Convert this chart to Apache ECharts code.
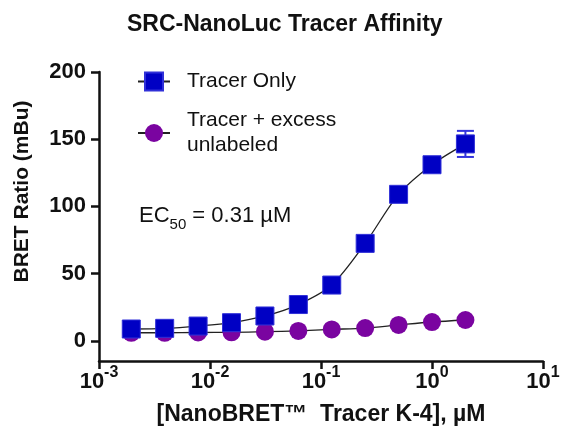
<!DOCTYPE html>
<html>
<head>
<meta charset="utf-8">
<script src="https://cdn.jsdelivr.net/npm/echarts@6/dist/echarts.min.js"></script>
<style>
html,body{margin:0;padding:0;background:#fff;}
#chart{width:561px;height:427px;}
</style>
</head>
<body>
<div id="chart"></div>
<script>
// Concentrations (µM), 2-fold serial dilution read from the x positions
var concentrations = [0.001953, 0.003906, 0.0078125, 0.015625, 0.03125, 0.0625, 0.125, 0.25, 0.5, 1, 2];
// BRET ratio (mBu)
var tracerOnly = [8.8, 9.3, 11, 13.5, 18.5, 27, 41.5, 72.5, 109, 131, 146.5];
var tracerOnlyErr = [1, 1, 1, 1, 1.5, 2, 2, 3, 3, 3, 9.7];
var tracerExcess = [6, 6, 6.2, 6.3, 6.8, 7.4, 8.5, 9.5, 11.8, 14, 15.5];
var seriesNames = ['Tracer Only', 'Tracer + excess\nunlabeled'];
var yTicks = [0, 50, 100, 150, 200];

var FONT = '"Liberation Sans", Arial, Helvetica, sans-serif';
var BLUE = '#0000C4';
var PURPLE = '#7A04A0';

function pairs(xs, ys) { return xs.map(function (x, i) { return [x, ys[i]]; }); }
var errData = concentrations.map(function (x, i) {
  return [x, tracerOnly[i] - tracerOnlyErr[i], tracerOnly[i] + tracerOnlyErr[i]];
});

var chart = echarts.init(document.getElementById('chart'), null, { renderer: 'canvas' });
chart.setOption({
  animation: false,
  backgroundColor: '#fff',
  title: {
    text: 'SRC-NanoLuc Tracer Affinity',
    left: 122, top: 8,
    textStyle: { fontFamily: FONT, fontSize: 23, fontWeight: 'bold', color: '#111' }
  },
  grid: { left: 99, right: 18, top: 72, bottom: 66, outerBoundsMode: 'none', containLabel: false },
  legend: {
    orient: 'vertical', left: 137, top: 69, padding: 0,
    itemWidth: 32, itemHeight: 22.5, itemGap: 14,
    data: seriesNames,
    textStyle: { fontFamily: FONT, fontSize: 21, color: '#111', lineHeight: 25, padding: [0, 0, 0, 12] }
  },
  xAxis: {
    type: 'log', logBase: 10, min: 0.001, max: 10,
    name: '[NanoBRET\u2122  Tracer K-4], \u00b5M',
    nameLocation: 'middle', nameGap: 42, nameMoveOverlap: false,
    nameTextStyle: { fontFamily: FONT, fontSize: 23, fontWeight: 'bold', color: '#111' },
    axisLine: { onZero: false, lineStyle: { color: '#111', width: 2.5 } },
    axisTick: { length: 8, lineStyle: { width: 2.5, color: '#111' } },
    minorTick: { show: false },
    splitLine: { show: false },
    axisLabel: {
      margin: 4,
      formatter: function (v) {
        var e = Math.round(Math.log10(v));
        return '{b|10}{s|' + e + '}';
      },
      rich: {
        b: { fontFamily: FONT, fontSize: 22, fontWeight: 'bold', color: '#111', lineHeight: 28, verticalAlign: 'bottom' },
        s: { fontFamily: FONT, fontSize: 16, fontWeight: 'bold', color: '#111', lineHeight: 28, verticalAlign: 'top' }
      }
    }
  },
  yAxis: {
    type: 'value', min: -15, max: 200,
    name: 'BRET Ratio (mBu)', nameLocation: 'middle', nameGap: 66, nameRotate: 90,
    nameTextStyle: { fontFamily: FONT, fontSize: 21, fontWeight: 'bold', color: '#111', padding: [0, 0, 0, 50] },
    axisLine: { show: true, onZero: false, lineStyle: { color: '#111', width: 2.5 } },
    axisTick: { show: true, length: 8, lineStyle: { width: 2.5, color: '#111' }, customValues: yTicks },
    splitLine: { show: false },
    axisLabel: { margin: 13, customValues: yTicks, fontFamily: FONT, fontSize: 22, fontWeight: 'bold', color: '#111' }
  },
  graphic: [{
    type: 'text', left: 139, top: 205,
    style: {
      text: '{n|EC}{sub|50}{n| = 0.31 \u00b5M}',
      rich: {
        n: { fontFamily: FONT, fontSize: 22, fill: '#111', lineHeight: 27, verticalAlign: 'top' },
        sub: { fontFamily: FONT, fontSize: 15, fill: '#111', lineHeight: 27, verticalAlign: 'bottom', padding: [9, 0, 0, 0] }
      }
    }
  }],
  series: [
    {
      name: seriesNames[1], type: 'line', data: pairs(concentrations, tracerExcess),
      symbol: 'circle', symbolSize: 18, smooth: 0.3, z: 2,
      itemStyle: { color: PURPLE },
      lineStyle: { color: '#222', width: 1.3 }
    },
    {
      name: seriesNames[0], type: 'line', data: pairs(concentrations, tracerOnly),
      symbol: 'rect', symbolSize: 18, smooth: 0.3, z: 4,
      itemStyle: { color: BLUE, borderColor: '#3030D8', borderWidth: 1 },
      lineStyle: { color: '#222', width: 1.3 }
    },
    {
      type: 'custom', name: 'err', data: errData, z: 3, silent: true,
      renderItem: function (params, api) {
        var lo = api.coord([api.value(0), api.value(1)]);
        var hi = api.coord([api.value(0), api.value(2)]);
        var w = 8.5;
        var st = { stroke: '#3333DD', lineWidth: 2, fill: null };
        return {
          type: 'group', children: [
            { type: 'line', shape: { x1: lo[0], y1: lo[1], x2: hi[0], y2: hi[1] }, style: st },
            { type: 'line', shape: { x1: lo[0] - w, y1: lo[1], x2: lo[0] + w, y2: lo[1] }, style: st },
            { type: 'line', shape: { x1: hi[0] - w, y1: hi[1], x2: hi[0] + w, y2: hi[1] }, style: st }
          ]
        };
      }
    }
  ]
});
</script>
</body>
</html>
